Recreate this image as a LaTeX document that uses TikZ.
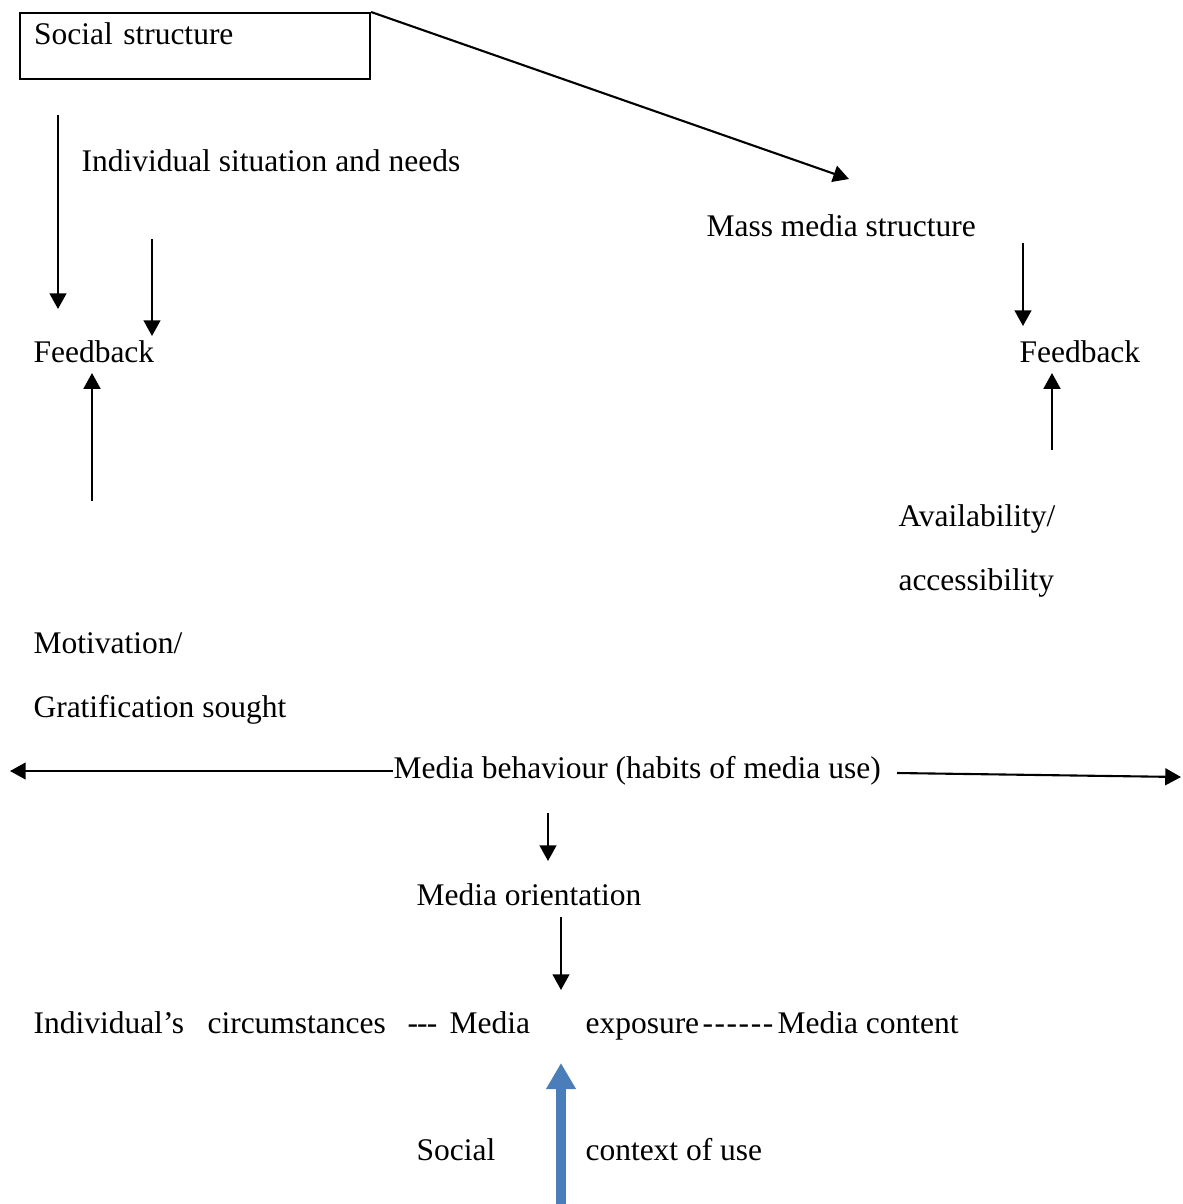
\documentclass[tikz,border=0pt]{standalone}
\usepackage{fontspec}
\setmainfont{Liberation Serif}
\usetikzlibrary{arrows.meta}
\definecolor{ctxblue}{RGB}{74,126,187}
\newcommand\hy{\mbox{-}}

\begin{document}
\begin{tikzpicture}[x=0.381pt, y=-0.381pt,
  lbl/.style={anchor=base west, inner sep=0pt, font=\fontsize{12pt}{14pt}\selectfont},
  arr/.style={line width=0.8pt, -{Triangle[length=6pt, width=6.4pt]}}]
  \useasboundingbox (0,0) rectangle (1182,1204);

  % Top: social structure and its branches
  \node[lbl, draw, line width=0.8pt, anchor=north west, inner xsep=5.33pt, inner ysep=0pt,
        text width=122.7pt, text height=11.81pt, text depth=13.34pt, align=left]
        (social) at (19,12) {Social structure};
  \node[lbl] (needs) at (81,171) {Individual situation and needs};
  \node[lbl] (massmedia) at (706,236) {Mass media structure};
  \coordinate (mmtip) at (849,179);
  \draw[arr] (social.north east) -- (mmtip);

  % Left column
  \node[lbl] (fbleft) at (33,362) {Feedback};
  \node[lbl] (motiv) at (33,653) {Motivation/};
  \node[lbl] (grat) at (33,717) {Gratification sought};
  \coordinate (ss-a) at (58,115);   \coordinate (ss-b) at (58,309);
  \coordinate (nd-a) at (152,239);  \coordinate (nd-b) at (152,336);
  \coordinate (mo-a) at (92,501);   \coordinate (mo-b) at (92,373);
  \draw[arr] (ss-a) -- (ss-b);
  \draw[arr] (nd-a) -- (nd-b);
  \draw[arr] (mo-a) -- (mo-b);

  % Right column
  \node[lbl] (fbright) at (1019,362) {Feedback};
  \node[lbl] (avail) at (898,526) {Availability/};
  \node[lbl] (access) at (898,590) {accessibility};
  \coordinate (mm-a) at (1023,243); \coordinate (mm-b) at (1023,326);
  \coordinate (av-a) at (1052,450); \coordinate (av-b) at (1052,373);
  \draw[arr] (mm-a) -- (mm-b);
  \draw[arr] (av-a) -- (av-b);

  % Media behaviour line
  \node[lbl] (behav) at (393,778) {Media behaviour (habits of media use)};
  \coordinate (bh-l) at (10,771);
  \coordinate (bh-r0) at (897,773); \coordinate (bh-r) at (1181,777);
  \draw[arr] (behav.base west) ++(0,-7) -- (bh-l);
  \draw[arr] (bh-r0) -- (bh-r);

  % Orientation and exposure
  \node[lbl] (orient) at (416,905) {Media orientation};
  \coordinate (or-a) at (548,813);  \coordinate (or-b) at (548,861);
  \coordinate (ex-a) at (561,917);  \coordinate (ex-b) at (561,990);
  \draw[arr] (or-a) -- (or-b);
  \draw[arr] (ex-a) -- (ex-b);

  \node[lbl] (indiv) at (33,1033) {Individual’s};
  \node[lbl] (circ) at (207,1033) {circumstances};
  \node[lbl] (dashA) at (407,1033) {\hy\kern-0.3pt\hy\kern-0.3pt\hy};
  \node[lbl] (media) at (449,1033) {Media};
  \node[lbl] (expos) at (585,1033) {exposure};
  \node[lbl] (dashB) at (702,1033) {\hy\kern0.6pt\hy\kern0.6pt\hy\kern0.6pt\hy\kern0.6pt\hy\kern0.6pt\hy};
  \node[lbl] (content) at (777,1033) {Media content};

  % Social context of use
  \node[lbl] (social2) at (416,1160) {Social};
  \node[lbl] (context) at (585,1160) {context of use};
  \coordinate (ctx-a) at (561,1204); \coordinate (ctx-b) at (561,1063);
  \draw[ctxblue, line width=3.8pt, -{Triangle[length=9.9pt, width=10.7pt]}] (ctx-a) -- (ctx-b);
\end{tikzpicture}
\end{document}
